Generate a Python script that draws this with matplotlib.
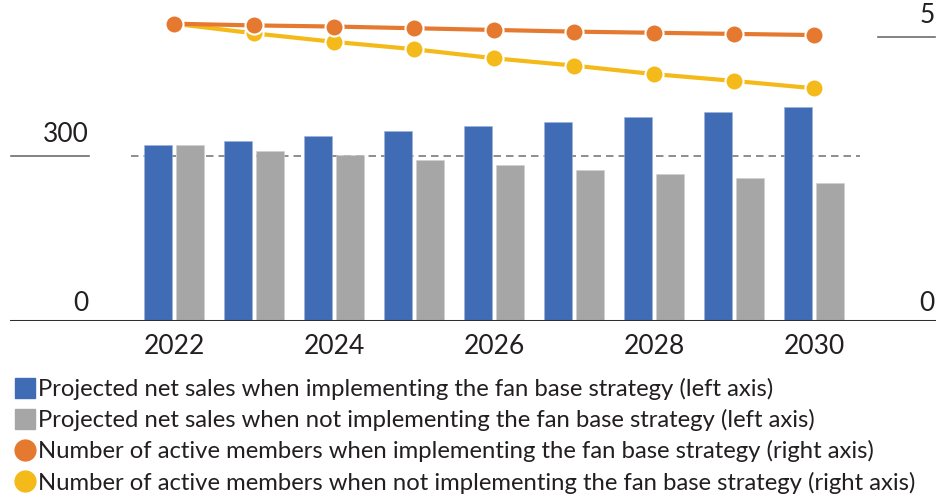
import matplotlib
matplotlib.use("Agg")
import matplotlib.pyplot as plt
from matplotlib.lines import Line2D

plt.rcParams['font.family'] = ['Lato', 'DejaVu Sans']

years = [2022, 2023, 2024, 2025, 2026, 2027, 2028, 2029, 2030]
sales_with = [320, 328, 337, 345, 354, 362, 371, 380, 390]
sales_without = [320, 310, 301, 292, 284, 275, 267, 259, 251]
members_with = [5.24, 5.21, 5.19, 5.16, 5.13, 5.10, 5.08, 5.06, 5.04]
members_without = [5.24, 5.07, 4.92, 4.79, 4.63, 4.50, 4.35, 4.23, 4.10]
tick_years = [2022, 2024, 2026, 2028, 2030]

labels = [
    "Projected net sales when implementing the fan base strategy (left axis)",
    "Projected net sales when not implementing the fan base strategy (left axis)",
    "Number of active members when implementing the fan base strategy (right axis)",
    "Number of active members when not implementing the fan base strategy (right axis)",
]

BLUE = "#3f6cb4"
GRAY = "#a6a6a6"
ORANGE = "#e5792f"
YELLOW = "#f4ba1a"
TXT = "#231f20"

W, H = 937, 504
fig = plt.figure(figsize=(W / 100, H / 100), dpi=100)

base_px = 320.5
ax = fig.add_axes([0, (H - base_px) / H, 1, base_px / H])
px_per_unit = 164.5 / 300
ax.set_ylim(0, base_px / px_per_unit)
ax.set_xlim((0 - 174) / 80, (W - 174) / 80)

x = list(range(len(years)))
bw = 0.36
ax.bar([i - 0.2 for i in x], sales_with, width=bw, color=BLUE,
       edgecolor="#9fb3dc", linewidth=0.4, zorder=2)
ax.bar([i + 0.2 for i in x], sales_without, width=bw, color=GRAY,
       edgecolor="#d0d0d0", linewidth=0.4, zorder=2)

# reference line at 300
ax.hlines(300, -0.54, 8.575, colors="#7a7a7a", linestyles=(0, (4.5, 3)),
          linewidth=1.2, zorder=1)
# axis label underline and baseline
ax.axhline(300, 11 / W, 89 / W, color="#6d6d6d", linewidth=1.2)
ax.axhline(0, 11 / W, 1, color="#2e2e2e", linewidth=2.2, zorder=3)

for s in ax.spines.values():
    s.set_visible(False)
ax.set_yticks([])
ax.set_xticks([years.index(y) for y in tick_years])
ax.set_xticklabels([str(y) for y in tick_years], fontsize=19, color=TXT)
ax.tick_params(axis="x", length=0, pad=10)

lx = (89 - 174) / 80
ax.text(lx, 300 + 22 / px_per_unit, "300", ha="right", va="center",
        fontsize=19, color=TXT)
ax.text(lx, 17 / px_per_unit, "0", ha="right", va="center",
        fontsize=19, color=TXT)

ax2 = ax.twinx()
r_px = (base_px - 37.3) / 5
ax2.set_ylim(0, base_px / r_px)
ax2.set_yticks([])
for s in ax2.spines.values():
    s.set_visible(False)
ax2.plot(x, members_without, color=YELLOW, linewidth=3, marker="o",
         markersize=13, markeredgecolor="white", markeredgewidth=1.5, zorder=3)
ax2.plot(x, members_with, color=ORANGE, linewidth=3, marker="o",
         markersize=13, markeredgecolor="white", markeredgewidth=1.5, zorder=4)
ax2.axhline(5, 878 / W, 935 / W, color="#6d6d6d", linewidth=1.2)
rx = (935 - 174) / 80
ax2.text(rx, 5 + 22 / r_px, "5", ha="right", va="center", fontsize=19, color=TXT)
ax2.text(rx, 17 / r_px, "0", ha="right", va="center", fontsize=19, color=TXT)

handles = [
    Line2D([], [], linestyle="none", marker="s", markersize=14, color=BLUE),
    Line2D([], [], linestyle="none", marker="s", markersize=14, color=GRAY),
    Line2D([], [], linestyle="none", marker="o", markersize=15, color=ORANGE),
    Line2D([], [], linestyle="none", marker="o", markersize=15, color=YELLOW),
]
leg = fig.legend(handles, labels, loc="upper left",
                 bbox_to_anchor=(14 / W, (H - 378) / H), frameon=False,
                 fontsize=17.2, handlelength=0.9, handletextpad=0.12,
                 labelspacing=0.38, borderpad=0, borderaxespad=0)
for t in leg.get_texts():
    t.set_color(TXT)

fig.savefig("out.png", dpi=100)
